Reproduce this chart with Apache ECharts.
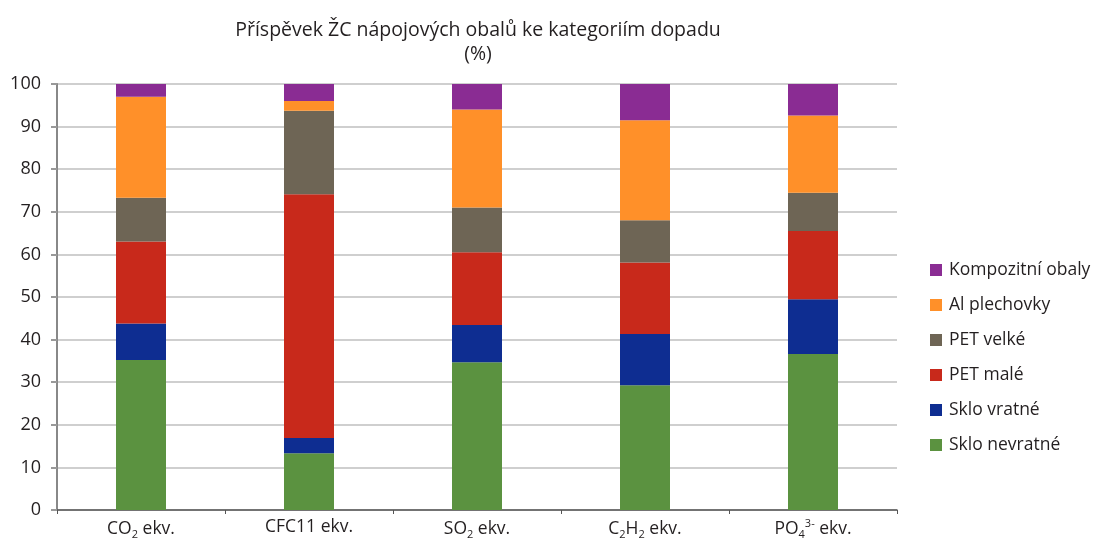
<!DOCTYPE html>
<html>
<head>
<meta charset="utf-8">
<script src="https://cdn.jsdelivr.net/npm/echarts@6/dist/echarts.min.js"></script>
<style>
  html, body { margin: 0; padding: 0; background: #fff; }
  #chart { width: 1094px; height: 540px; }
</style>
</head>
<body>
<div id="chart"></div>
<script>
// kategorie dopadu (rich text kvuli dolnim/hornim indexum)
const categories = [
  '{n|CO}{s|2}{n| ekv.}',
  '{n|CFC11 ekv.}',
  '{n|SO}{s|2}{n| ekv.}',
  '{n|C}{s|2}{n|H}{s|2}{n| ekv.}',
  '{n|PO}{s|4}{u|3-}{n| ekv.}'
]
const yTicks = [0, 10, 20, 30, 40, 50, 60, 70, 80, 90, 100]

const skloNevratne = [35.2, 13.3, 34.7, 29.3, 36.6]
const skloVratne = [8.6, 3.6, 8.7, 12.0, 12.9]
const petMale = [19.2, 57.2, 17.1, 16.8, 16.0]
const petVelke = [10.3, 19.6, 10.5, 9.9, 9.0]
const alPlechovky = [23.7, 2.3, 23.0, 23.5, 18.1]
const kompozitni = [3.0, 4.0, 6.0, 8.5, 7.4]

const seriesList = [
  { name: 'Sklo nevratné', data: skloNevratne, color: '#5b9240' },
  { name: 'Sklo vratné', data: skloVratne, color: '#0e2d91' },
  { name: 'PET malé', data: petMale, color: '#c8291b' },
  { name: 'PET velké', data: petVelke, color: '#6e6555' },
  { name: 'Al plechovky', data: alPlechovky, color: '#ff9029' },
  { name: 'Kompozitní obaly', data: kompozitni, color: '#8a2c93' }
]

const FONT = '"Open Sans", "Noto Sans", sans-serif'
const TEXT = '#231f20'

const chart = echarts.init(document.getElementById('chart'))

chart.setOption({
  animation: false,
  textStyle: { fontFamily: FONT },
  title: {
    text: 'Příspěvek ŽC nápojových obalů ke kategoriím dopadu\n(%)',
    left: 473,
    textAlign: 'center',
    top: 13,
    textStyle: {
      fontFamily: FONT,
      fontSize: 19.5,
      fontWeight: 'normal',
      color: TEXT,
      lineHeight: 24
    }
  },
  legend: {
    orient: 'vertical',
    left: 925,
    top: 255,
    itemWidth: 12,
    itemHeight: 12,
    itemGap: 15,
    icon: 'rect',
    data: seriesList.map(s => s.name).reverse(),
    textStyle: {
      fontFamily: FONT,
      fontSize: 17.5,
      lineHeight: 20,
      color: TEXT,
      padding: [0, 0, 0, 2]
    }
  },
  grid: {
    left: 57,
    right: 197,
    top: 84,
    bottom: 30
  },
  xAxis: {
    type: 'category',
    data: categories,
    axisLine: { lineStyle: { color: '#555', width: 1.5 } },
    axisTick: { show: true, length: 4, lineStyle: { color: '#555' } },
    axisLabel: {
      interval: 0,
      margin: 8,
      color: TEXT,
      rich: {
        n: { fontFamily: FONT, fontSize: 17.5, color: TEXT },
        s: { fontFamily: FONT, fontSize: 11, color: TEXT, padding: [11, 0, 0, 0] },
        u: { fontFamily: FONT, fontSize: 11, color: TEXT, padding: [0, 0, 11, 0] }
      }
    }
  },
  yAxis: {
    type: 'value',
    min: yTicks[0],
    max: yTicks[yTicks.length - 1],
    interval: 10,
    axisLine: { show: true, lineStyle: { color: '#888', width: 2 } },
    axisTick: { show: true, length: 6, lineStyle: { color: '#999', width: 2 } },
    axisLabel: {
      margin: 16,
      fontFamily: FONT,
      fontSize: 18,
      color: TEXT
    },
    splitLine: { lineStyle: { color: '#cfcfcf', width: 2 } }
  },
  series: seriesList.map(s => ({
    name: s.name,
    type: 'bar',
    stack: 'total',
    barWidth: 50,
    data: s.data,
    itemStyle: { color: s.color }
  }))
})
</script>
</body>
</html>
